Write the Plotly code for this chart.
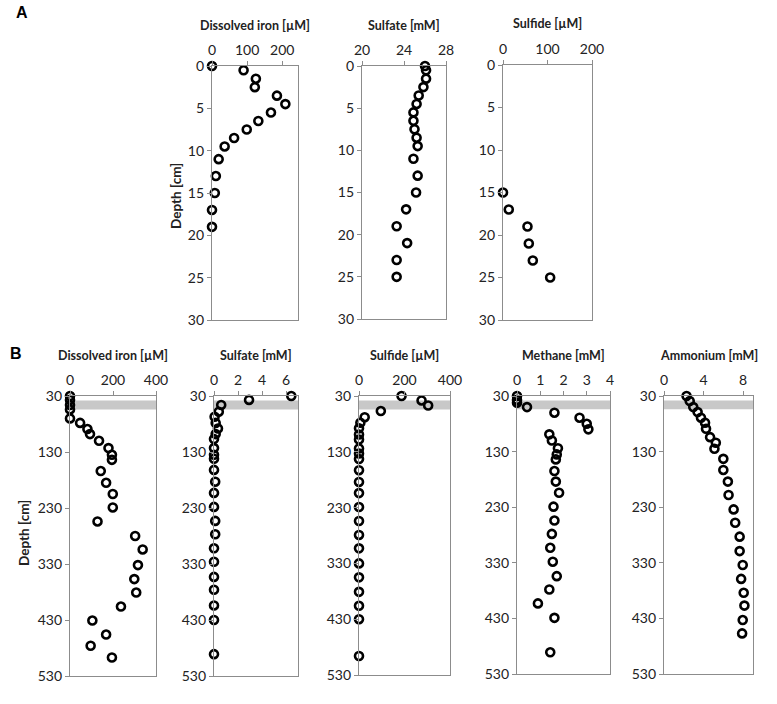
import plotly.graph_objects as go

# ---- panel A: short core (depth in cm) ----
a_iron_depth = [0, 0.5, 1.5, 2.5, 3.5, 4.5, 5.5, 6.5, 7.5, 8.5, 9.5, 11, 13, 15, 17, 19]
a_iron = [0, 90, 125, 122, 185, 209, 168, 132, 99, 63, 36, 19, 11, 8, 0, 0]

a_sulfate_depth = [0, 0.5, 1.5, 2.5, 3.5, 4.5, 5.5, 6.5, 7.5, 8.5, 9.5, 11, 13, 15, 17, 19, 21, 23, 25]
a_sulfate = [26.0, 26.1, 26.1, 25.85, 25.4, 25.2, 24.9, 24.9, 25.0, 25.2, 25.3, 24.9, 25.3, 25.15,
             24.2, 23.3, 24.3, 23.3, 23.3]

a_sulfide_depth = [15, 17, 19, 21, 23, 25]
a_sulfide = [0, 13, 55, 58, 67, 106]

# ---- panel B: long core (depth in cm) ----
b_iron_depth = [30, 37, 46, 54, 70, 78, 89, 98, 110, 123, 135, 144, 164, 185, 205, 229, 254,
                280, 304, 332, 357, 381, 406, 431, 456, 476, 497]
b_iron = [0, 0, 0, 0, 0, 47, 81, 93, 135, 179, 195, 195, 143, 168, 199, 199, 128,
          303, 338, 316, 299, 308, 237, 104, 168, 96, 195]

b_sulfate_depth = [30, 37, 46, 58, 67, 78, 88, 98, 107, 123, 135, 142, 162, 183, 203, 228, 253,
                   277, 302, 326, 353, 376, 404, 430, 491]
b_sulfate = [6.44, 2.92, 0.6, 0.4, 0.05, 0.14, 0.33, 0.14, 0, 0, 0, 0, 0, 0.1, 0, 0, 0.1,
             0.1, 0, 0, 0, 0, 0, 0, 0]

b_sulfide_depth = [30, 38, 47, 57, 68, 78, 88, 99, 108, 124, 133, 143, 163, 184, 204, 229, 254,
                   279, 303, 330, 355, 381, 406, 430, 496]
b_sulfide = [187, 275, 304, 96, 25, 6, 0, 0, 0, 0, 0, 0, 0, 0, 0, 0, 0,
             0, 0, 0, 0, 0, 0, 0, 0]

b_methane_depth = [30, 37, 42, 50, 60, 69, 80, 90, 99, 110, 124, 135, 144, 165, 184, 204, 229,
                   254, 278, 303, 328, 354, 378, 403, 429, 491]
b_methane = [0, 0, 0, 0.43, 1.61, 2.69, 3.0, 3.07, 1.39, 1.5, 1.76, 1.71, 1.67, 1.61, 1.67, 1.81,
             1.57, 1.61, 1.5, 1.43, 1.54, 1.71, 1.39, 0.9, 1.61, 1.43]

b_ammonium_depth = [30, 39, 50, 59, 69, 78, 89, 104, 114, 125, 143, 163, 184, 208, 234, 258,
                    283, 309, 334, 359, 384, 407, 433, 457]
b_ammonium = [2.28, 2.6, 2.96, 3.4, 3.74, 4.15, 4.25, 4.66, 5.24, 5.1, 6.0, 6.0, 6.46, 6.53,
              7.04, 7.2, 7.65, 7.65, 7.96, 7.8, 8.06, 8.13, 7.96, 7.9]

shaded_band = [38, 54]  # grey zone in panel B

W, H = 777, 704
FONT = "Lato"

# (x, y, title, x range, x ticks, y range, y ticks, pixel box left, right, top, bottom)
panels = [
    (a_iron, a_iron_depth, "Dissolved iron [µM]", [0, 245], [0, 100, 200], [30, 0],
     [0, 5, 10, 15, 20, 25, 30], (212, 298, 66, 320)),
    (a_sulfate, a_sulfate_depth, "Sulfate [mM]", [20, 28], [20, 24, 28], [30, 0],
     [0, 5, 10, 15, 20, 25, 30], (362, 446, 66, 319)),
    (a_sulfide, a_sulfide_depth, "Sulfide [µM]", [0, 200], [0, 100, 200], [30, 0],
     [0, 5, 10, 15, 20, 25, 30], (503, 592, 65, 320)),
    (b_iron, b_iron_depth, "Dissolved iron [µM]", [0, 400], [0, 200, 400], [530, 30],
     [30, 130, 230, 330, 430, 530], (70, 156, 396, 676)),
    (b_sulfate, b_sulfate_depth, "Sulfate [mM]", [0, 7], [0, 2, 4, 6], [530, 30],
     [30, 130, 230, 330, 430, 530], (214, 298, 396, 676)),
    (b_sulfide, b_sulfide_depth, "Sulfide [µM]", [0, 400], [0, 200, 400], [530, 30],
     [30, 130, 230, 330, 430, 530], (359, 450, 396, 675)),
    (b_methane, b_methane_depth, "Methane [mM]", [0, 4], [0, 1, 2, 3, 4], [530, 30],
     [30, 130, 230, 330, 430, 530], (517, 610, 396, 674)),
    (b_ammonium, b_ammonium_depth, "Ammonium [mM]", [0, 9], [0, 4, 8], [530, 30],
     [30, 130, 230, 330, 430, 530], (664, 753, 396, 674)),
]

fig = go.Figure()
annotations = []
shapes = []

for i, (xv, yv, title, xr, xt, yr, yt, box) in enumerate(panels, start=1):
    left, right, top, bottom = box
    sfx = "" if i == 1 else str(i)
    fig.add_trace(go.Scatter(
        x=xv, y=yv, mode="markers", xaxis="x" + sfx, yaxis="y" + sfx,
        marker=dict(symbol="circle-open", size=8, color="black", line=dict(width=2.6, color="black")),
        showlegend=False, cliponaxis=False,
    ))
    axis_common = dict(showline=True, linecolor="#8c8c8c", linewidth=1.3, mirror=True,
                       showgrid=False, zeroline=False, ticks="outside", ticklen=4,
                       tickcolor="#8c8c8c", automargin=False,
                       tickfont=dict(family=FONT, size=14, color="#222"))
    fig.layout["xaxis" + sfx] = dict(axis_common, domain=[left / W, right / W], range=xr,
                                     tickvals=xt, side="top", anchor="y" + sfx)
    fig.layout["yaxis" + sfx] = dict(axis_common, domain=[1 - bottom / H, 1 - top / H], range=yr,
                                     tickvals=yt, anchor="x" + sfx)
    annotations.append(dict(x=(left + right) / 2 / W, y=1 - (top - 41) / H, xref="paper", yref="paper",
                            text="<b>" + title + "</b>", showarrow=False, xanchor="center",
                            font=dict(family=FONT, size=12.5, color="#222"), yanchor="middle"))
    if i > 3:
        shapes.append(dict(type="rect", xref="x" + sfx + " domain", yref="y" + sfx,
                           x0=0, x1=1, y0=shaded_band[0], y1=shaded_band[1],
                           fillcolor="#c8c8c8", line=dict(width=0), layer="below"))

annotations += [
    dict(x=22 / W, y=1 - 12 / H, xref="paper", yref="paper", text="<b>A</b>", showarrow=False,
         xanchor="center", yanchor="middle",
         font=dict(family="Liberation Sans", size=16, color="black")),
    dict(x=16 / W, y=1 - 353 / H, xref="paper", yref="paper", text="<b>B</b>", showarrow=False,
         xanchor="center", yanchor="middle",
         font=dict(family="Liberation Sans", size=16, color="black")),
    dict(x=176 / W, y=1 - 196 / H, xref="paper", yref="paper", text="<b>Depth [cm]</b>",
         showarrow=False, textangle=-90, xanchor="center", yanchor="middle",
         font=dict(family=FONT, size=13.5, color="#222")),
    dict(x=24 / W, y=1 - 533 / H, xref="paper", yref="paper", text="<b>Depth [cm]</b>",
         showarrow=False, textangle=-90, xanchor="center", yanchor="middle",
         font=dict(family=FONT, size=13.5, color="#222")),
]

fig.update_layout(
    width=W, height=H, margin=dict(l=0, r=0, t=0, b=0),
    paper_bgcolor="white", plot_bgcolor="white",
    annotations=annotations, shapes=shapes,
)

# drop the default page margin so the figure sits at the window's top-left corner
fig.write_html("out.html", config={"displayModeBar": False},
               post_script="document.body.style.margin = '0';")
